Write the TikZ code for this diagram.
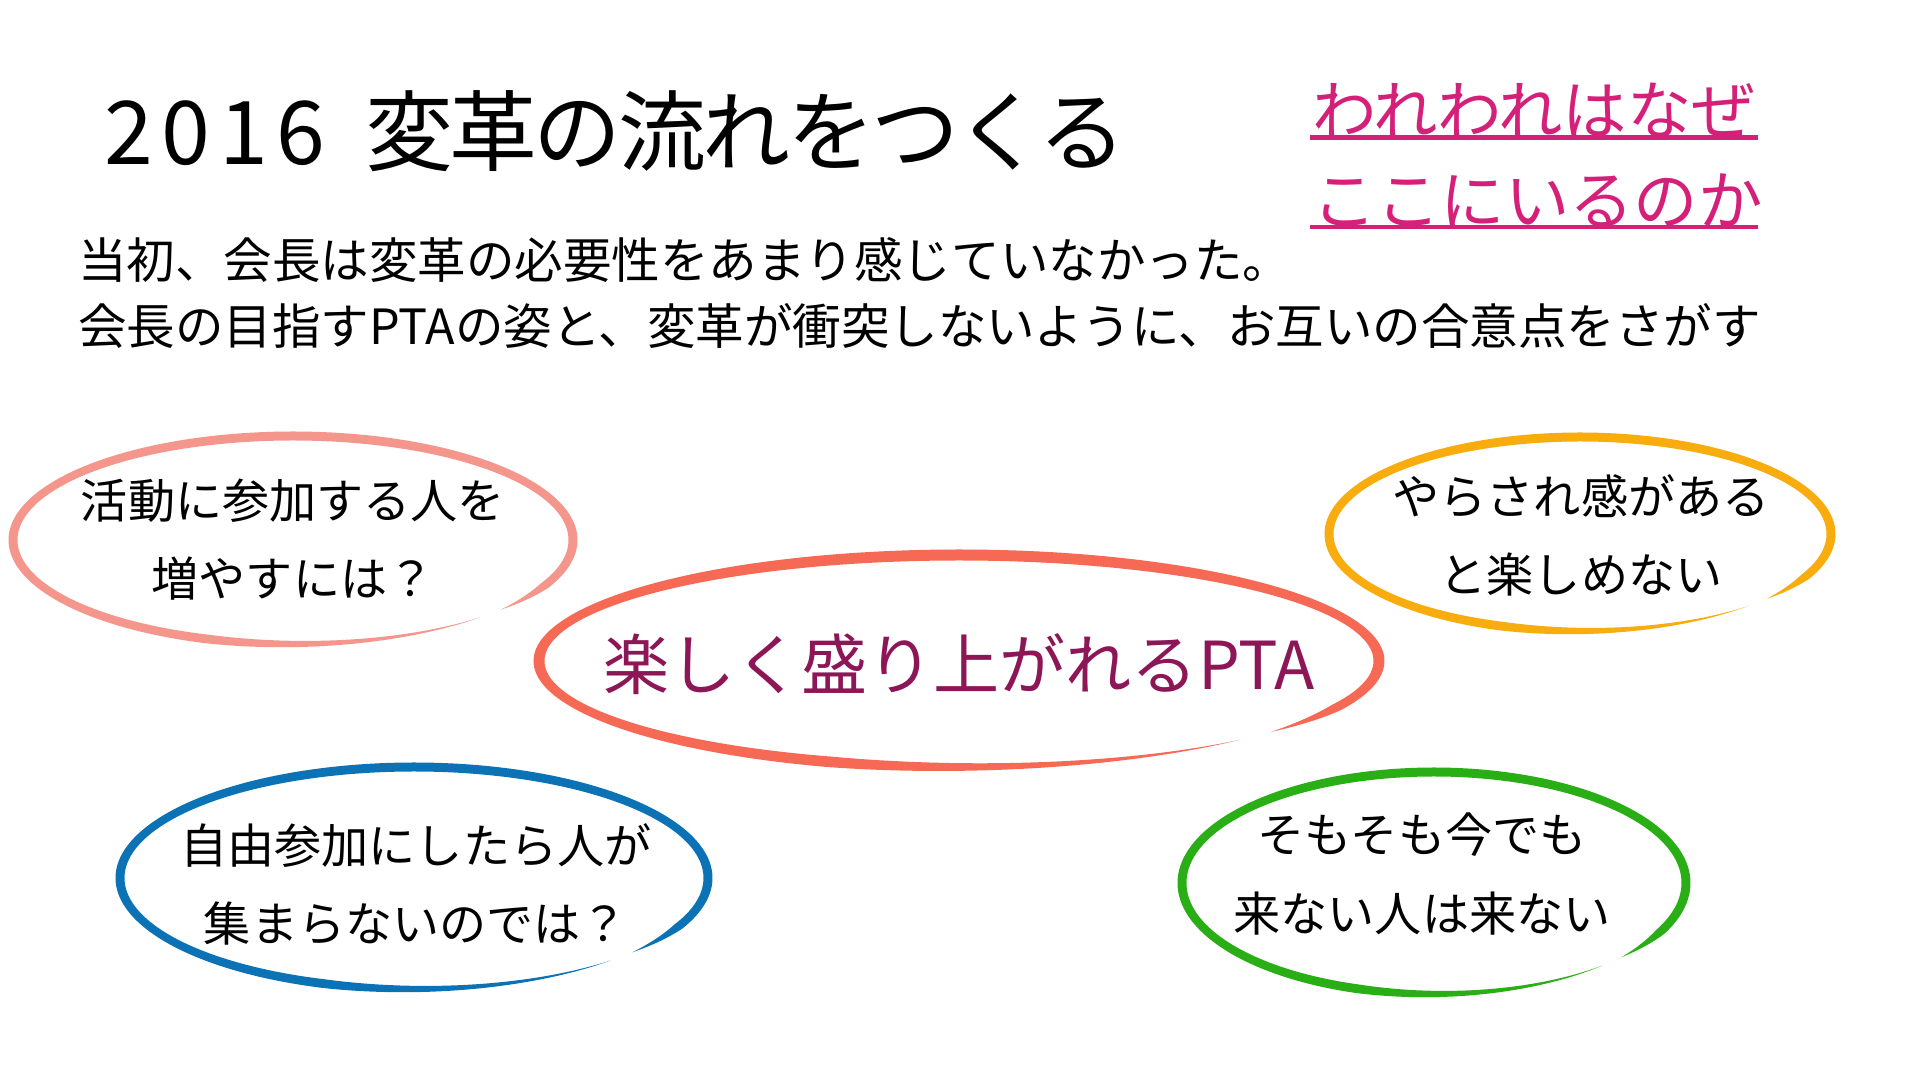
\documentclass[tikz,border=0pt]{standalone}
\usepackage{fontspec}
\setmainfont{Noto Sans CJK JP}
\definecolor{salmon}{RGB}{244,150,140}
\definecolor{tomatoc}{RGB}{245,105,85}
\definecolor{amber}{RGB}{248,172,14}
\definecolor{blueb}{RGB}{12,114,182}
\definecolor{greenb}{RGB}{42,174,22}
\definecolor{plum}{RGB}{140,22,86}
\definecolor{pinkc}{RGB}{213,32,122}
% brush-stroke ellipse: cx, cy, rx, ry, half width, colour
\newcommand\brushell[6]{%
 \fill[#6] plot[domain=-42:312,samples=360,variable=\t]
  ({#1+(#3+#5*min(1,(\t+42)/16,(312-\t)/60))*cos(\t)},{#2+(#4+#5*min(1,(\t+42)/16,(312-\t)/60))*sin(\t)})
  -- plot[domain=312:-42,samples=360,variable=\t]
  ({#1+(#3-#5*min(1,(\t+42)/16,(312-\t)/60))*cos(\t)},{#2+(#4-#5*min(1,(\t+42)/16,(312-\t)/60))*sin(\t)})
  -- cycle;}
\begin{document}
\begin{tikzpicture}[x=0.01cm,y=0.01cm,
  every node/.style={inner sep=0pt,outer sep=0pt},
  titletext/.style={font=\fontsize{25}{30}\selectfont},
  subtext/.style={font=\fontsize{13.8}{18}\selectfont},
  pinktext/.style={font=\fontsize{18.3}{22}\selectfont,text=pinkc},
  pinkline/.style={pinkc,line width=1.3pt},
  balltext/.style={font=\fontsize{13.4}{22.2}\selectfont,align=center},
  centertext/.style={font=\fontsize{18.8}{24}\selectfont,text=plum}]
\fill[white] (0,0) rectangle (1920,-1080);
\useasboundingbox (0,0) rectangle (1920,-1080);

\node[titletext,anchor=west] (title) at (104,-131) {{\addfontfeature{LetterSpace=10}2016}\hspace{0.45em}{\addfontfeature{LetterSpace=-4}変革の流れをつくる}};
\node[subtext,anchor=west] (sub1) at (78,-260) {当初、会長は変革の必要性をあまり感じていなかった。};
\node[subtext,anchor=west] (sub2) at (78,-326) {会長の目指すPTAの姿と、変革が衝突しないように、お互いの合意点をさがす};

\node[pinktext,anchor=west] (why1) at (1312,-110) {われわれはなぜ};
\node[pinktext,anchor=west] (why2) at (1312,-200) {ここにいるのか};
\draw[pinkline] ([xshift=-0.5pt]why1.south west) -- ++(448,0);
\draw[pinkline] ([xshift=-0.5pt]why2.south west) -- ++(448,0);

% ellipses
\brushell{293}{-540}{280}{104}{4.5}{salmon}
\brushell{959}{-661}{420}{106}{5.5}{tomatoc}
\brushell{1580}{-534}{251}{97}{4.5}{amber}
\brushell{414}{-878}{294}{111}{4.5}{blueb}
\brushell{1434}{-883}{252}{111}{4.5}{greenb}

\node[balltext] (q1) at (293,-540) {活動に参加する人を\\増やすには？};
\node[centertext] (goal) at (959,-664) {楽しく盛り上がれるPTA};
\node[balltext] (q2) at (1581,-535) {やらされ感がある\\と楽しめない};
\node[balltext] (q3) at (416,-884) {自由参加にしたら人が\\集まらないのでは？};
\node[balltext] (q4) at (1422,-874) {そもそも今でも\\来ない人は来ない};
\end{tikzpicture}
\end{document}
